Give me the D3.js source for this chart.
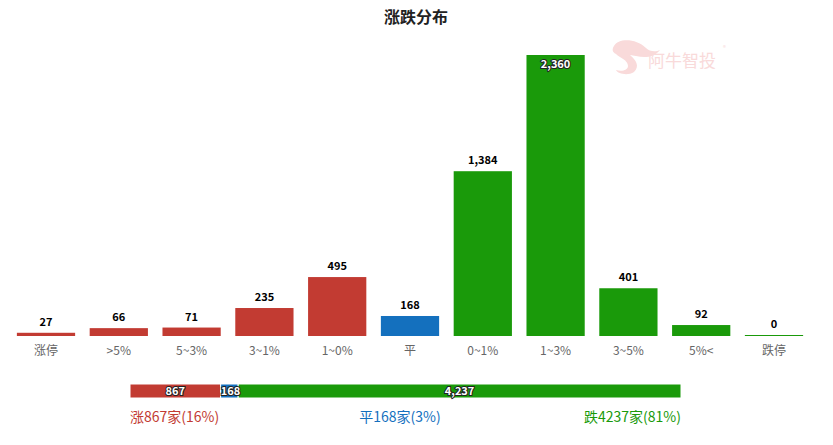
<!DOCTYPE html>
<html>
<head>
<meta charset="utf-8">
<script src="https://cdn.jsdelivr.net/npm/d3@7"></script>
<style>
  body { margin: 0; background: #fff; }
  svg { font-family: "Microsoft YaHei", "Noto Sans CJK SC", "DejaVu Sans", sans-serif; }
</style>
</head>
<body>
<div id="chart"></div>
<script>
var categories = ['涨停', '>5%', '5~3%', '3~1%', '1~0%', '平', '0~1%', '1~3%', '3~5%', '5%<', '跌停'];
var counts = [27, 66, 71, 235, 495, 168, 1384, 2360, 401, 92, 0];
var kinds = ['up', 'up', 'up', 'up', 'up', 'flat', 'down', 'down', 'down', 'down', 'down'];
var summaryLabels = ['涨', '平', '跌'];
var summaryCounts = [867, 168, 4237];

var colors = { up: '#c23b32', flat: '#1470be', down: '#1a9a0a' };
var W = 833, H = 445;

var svg = d3.select('#chart').append('svg')
  .attr('width', W)
  .attr('height', H);

svg.append('text')
  .attr('x', 416).attr('y', 23)
  .attr('text-anchor', 'middle')
  .style('font-size', '16px')
  .style('font-weight', 'bold')
  .attr('fill', '#222')
  .text('涨跌分布');

// watermark
var wm = svg.append('g').attr('fill', '#f9dada');
wm.append('path')
  .attr('d', 'M614,46 C618,38 636,38 646,48 C650,52 656,52 660,50 C654,58 644,58 636,56 L630,55 C636,60 640,66 634,72 C628,76 618,74 616,70 C622,72 628,70 628,66 C628,60 620,58 616,54 C612,52 612,49 614,46 Z');
wm.append('text')
  .attr('x', 648).attr('y', 67)
  .style('font-size', '17px')
  .text('阿牛智投');
wm.append('text')
  .attr('x', 723).attr('y', 50)
  .style('font-size', '6px')
  .text('®');

var x = d3.scaleBand()
  .domain(categories)
  .range([9.6, 810.4])
  .paddingInner(0.2)
  .paddingOuter(0.1);

var y = d3.scaleLinear()
  .domain([0, d3.max(counts)])
  .range([336, 55]);

var data = categories.map(function(c, i) {
  return { cat: c, value: counts[i], kind: kinds[i] };
});

svg.append('g').selectAll('rect')
  .data(data)
  .enter().append('rect')
  .attr('x', function(d) { return x(d.cat); })
  .attr('width', x.bandwidth())
  .attr('y', function(d) { return Math.min(y(d.value), y(0) - 1); })
  .attr('height', function(d) { return Math.max(y(0) - y(d.value), 1); })
  .attr('fill', function(d) { return colors[d.kind]; });

var fmt = d3.format(',');

svg.append('g').selectAll('text')
  .data(data)
  .enter().append('text')
  .attr('x', function(d) { return x(d.cat) + x.bandwidth() / 2; })
  .attr('y', function(d) {
    var top = Math.min(y(d.value), y(0) - 1);
    return top < 75 ? top + 13 : top - 7;
  })
  .attr('text-anchor', 'middle')
  .style('font-size', '11px')
  .style('font-weight', 'bold')
  .style('paint-order', 'stroke')
  .attr('stroke-width', 2)
  .attr('stroke', function(d) { return y(d.value) < 75 ? '#222' : '#fff'; })
  .attr('fill', function(d) { return y(d.value) < 75 ? '#fff' : '#000'; })
  .text(function(d) { return fmt(d.value); });

var xAxis = svg.append('g')
  .attr('transform', 'translate(0,336)')
  .call(d3.axisBottom(x).tickSize(0).tickPadding(10));
xAxis.select('.domain').remove();
xAxis.selectAll('text')
  .style('font-size', '12px')
  .style('font-family', '"Microsoft YaHei", "Noto Sans CJK SC", sans-serif')
  .attr('fill', '#666');

// summary bar
var total = d3.sum(summaryCounts);
var sx = d3.scaleLinear().domain([0, total]).range([130, 681]);
var cum = 0;
var segs = summaryCounts.map(function(v, i) {
  var s = { start: cum, value: v, kind: ['up', 'flat', 'down'][i], label: summaryLabels[i] };
  cum += v;
  return s;
});
// percentages rounded, last one takes the remainder
var pctUsed = 0;
segs.forEach(function(s, i) {
  s.pct = i < segs.length - 1 ? Math.round(s.value / total * 100) : 100 - pctUsed;
  pctUsed += s.pct;
});

var sb = svg.append('g');
sb.selectAll('rect')
  .data(segs)
  .enter().append('rect')
  .attr('x', function(d) { return sx(d.start); })
  .attr('y', 384)
  .attr('width', function(d) { return sx(d.start + d.value) - sx(d.start); })
  .attr('height', 14)
  .attr('fill', function(d) { return colors[d.kind]; })
  .attr('stroke', '#fff')
  .attr('stroke-width', 1);

sb.selectAll('text')
  .data(segs)
  .enter().append('text')
  .attr('x', function(d) {
    var w = sx(d.start + d.value) - sx(d.start);
    return w < 30 ? sx(d.start) + 10 : sx(d.start) + w / 2;
  })
  .attr('y', 395)
  .attr('text-anchor', 'middle')
  .style('font-size', '11px')
  .style('font-weight', 'bold')
  .style('paint-order', 'stroke')
  .attr('stroke', '#222')
  .attr('stroke-width', 2)
  .attr('fill', '#fff')
  .text(function(d) { return fmt(d.value); });

var anchors = ['start', 'middle', 'end'];
var ax = [130, 400, 681];
svg.append('g').selectAll('text')
  .data(segs)
  .enter().append('text')
  .attr('x', function(d, i) { return ax[i]; })
  .attr('y', 422)
  .attr('text-anchor', function(d, i) { return anchors[i]; })
  .style('font-size', '14px')
  .attr('fill', function(d) { return colors[d.kind]; })
  .text(function(d) {
    return d.label + d.value + '家(' + d.pct + '%)';
  });
</script>
</body>
</html>
